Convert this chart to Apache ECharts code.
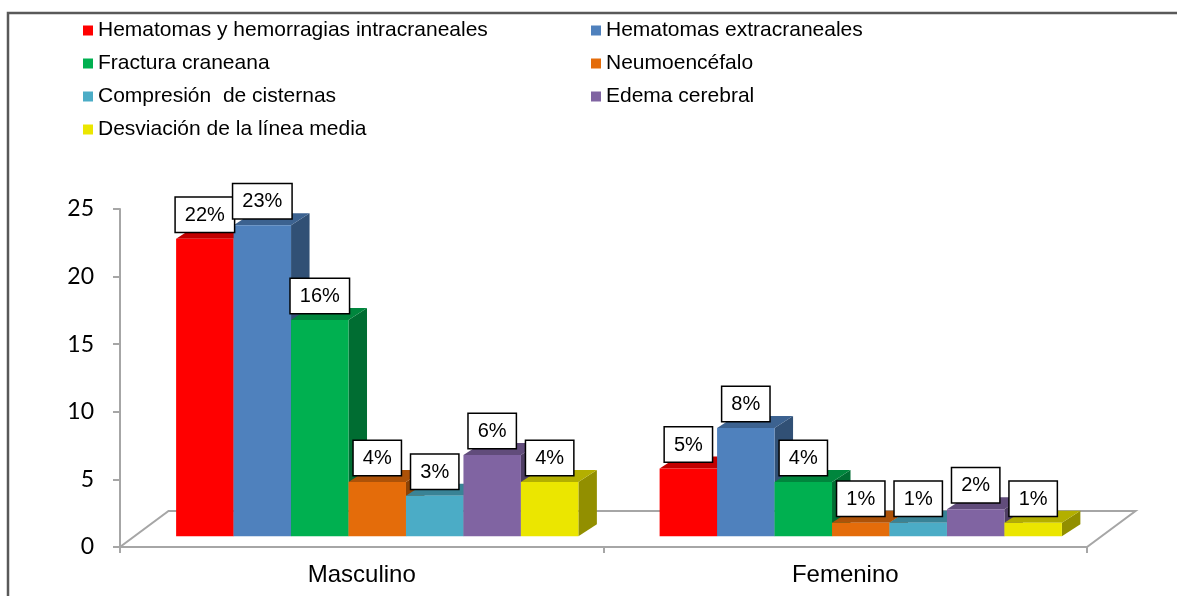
<!DOCTYPE html>
<html>
<head>
<meta charset="utf-8">
<script src="https://cdn.jsdelivr.net/npm/echarts@6/dist/echarts.min.js"></script>
<style>
  html, body { margin: 0; padding: 0; background: #fff; }
  #chart { width: 1177px; height: 596px; }
</style>
</head>
<body>
<div id="chart"></div>
<script>
// datos
const categories = ['Masculino', 'Femenino'];
const seriesNames = [
  'Hematomas y hemorragias intracraneales',
  'Hematomas extracraneales',
  'Fractura craneana',
  'Neumoencéfalo',
  'Compresión  de cisternas',
  'Edema cerebral',
  'Desviación de la línea media'
];
// un array por serie: [Masculino, Femenino]
const hematomasIntra = [22, 5];
const hematomasExtra = [23, 8];
const fractura = [16, 4];
const neumoencefalo = [4, 1];
const compresion = [3, 1];
const edema = [6, 2];
const desviacion = [4, 1];
const seriesValues = [hematomasIntra, hematomasExtra, fractura, neumoencefalo, compresion, edema, desviacion];
const yTicks = [0, 5, 10, 15, 20, 25];

const colors = ['#FF0000', '#4F81BD', '#00B050', '#E46C0A', '#4BACC6', '#8064A2', '#EBE600'];

// estilo "3D" tipo Excel
const FLOOR_DX = 48.5, FLOOR_DY = -36;   // profundidad del piso
const FRONT_DX = 15.5, FRONT_DY = -10.8; // cara frontal de las barras
const SIDE_DX = 18.5, SIDE_DY = -12;     // profundidad de cada barra
const GROUP_RATIO = 0.832;
const FONT = '"Liberation Sans", Arial, sans-serif';

function shade(hex, k) {
  const n = parseInt(hex.slice(1), 16);
  const r = Math.round(((n >> 16) & 255) * k);
  const g = Math.round(((n >> 8) & 255) * k);
  const b = Math.round((n & 255) * k);
  return 'rgb(' + r + ',' + g + ',' + b + ')';
}

function barRenderer(idx) {
  const color = colors[idx];
  return function (params, api) {
    const cat = api.value(0);
    const val = api.value(1);
    const base = api.coord([cat, 0]);
    const top = api.coord([cat, val]);
    const band = api.size([1, 0])[0];
    const groupW = band * GROUP_RATIO;
    const barW = groupW / seriesNames.length;
    const x0 = base[0] - groupW / 2 + idx * barW + FRONT_DX;
    const x1 = x0 + barW;
    const yb = base[1] + FRONT_DY;
    const yt = top[1] + FRONT_DY;
    return {
      type: 'group',
      children: [
        {
          type: 'polygon',
          shape: { points: [[x1, yt], [x1 + SIDE_DX, yt + SIDE_DY], [x1 + SIDE_DX, yb + SIDE_DY], [x1, yb]] },
          style: { fill: shade(color, 0.62) }
        },
        {
          type: 'polygon',
          shape: { points: [[x0, yt], [x1, yt], [x1 + SIDE_DX, yt + SIDE_DY], [x0 + SIDE_DX, yt + SIDE_DY]] },
          style: { fill: shade(color, 0.76) }
        },
        {
          type: 'rect',
          shape: { x: x0, y: yt, width: barW, height: yb - yt },
          style: { fill: color }
        },
        {
          type: 'text',
          z2: 100,
          style: {
            text: val + '%',
            x: (x0 + x1) / 2,
            y: yt - 7,
            align: 'center',
            verticalAlign: 'bottom',
            font: '20px ' + FONT,
            fill: '#000',
            backgroundColor: '#fff',
            borderColor: '#000',
            borderWidth: 1.5,
            padding: [6, 9, 5, 9],
            lineHeight: 23
          }
        }
      ]
    };
  };
}

const chart = echarts.init(document.getElementById('chart'));

const series = [{
  type: 'custom',
  name: 'piso',
  z: 1,
  silent: true,
  data: [[0, 0]],
  renderItem: function (params) {
    const cs = params.coordSys;
    const yb = cs.y + cs.height;
    return {
      type: 'polygon',
      shape: { points: [[cs.x, yb], [cs.x + cs.width, yb], [cs.x + cs.width + FLOOR_DX, yb + FLOOR_DY], [cs.x + FLOOR_DX, yb + FLOOR_DY]] },
      style: { fill: '#fff', stroke: '#A6A6A6', lineWidth: 2 }
    };
  }
}];

seriesNames.forEach(function (name, i) {
  series.push({
    type: 'custom',
    name: name,
    z: 2,
    itemStyle: { color: colors[i] },
    data: seriesValues[i].map(function (v, c) { return [c, v]; }),
    renderItem: barRenderer(i)
  });
});

chart.setOption({
  animation: false,
  graphic: [{
    type: 'rect',
    shape: { x: 8, y: 13, width: 1190, height: 620 },
    style: { fill: 'none', stroke: '#595959', lineWidth: 2.5 },
    silent: true
  }],
  legend: {
    data: seriesNames,
    left: 83,
    top: 19,
    padding: 0,
    width: 1040,
    icon: 'rect',
    itemWidth: 10,
    itemHeight: 10,
    itemGap: 10,
    textStyle: { fontFamily: FONT, fontSize: 21, color: '#000', width: 483, lineHeight: 23 }
  },
  grid: { left: 120, right: 90, top: 209, bottom: 49 },
  xAxis: {
    type: 'category',
    data: categories,
    axisLine: { lineStyle: { color: '#A6A6A6', width: 2 } },
    axisTick: { show: true, length: 6, lineStyle: { color: '#A6A6A6', width: 2 } },
    axisLabel: { fontFamily: FONT, fontSize: 24, color: '#000', margin: 16 }
  },
  yAxis: {
    type: 'value',
    min: yTicks[0],
    max: yTicks[yTicks.length - 1],
    interval: yTicks[1] - yTicks[0],
    axisLine: { show: true, lineStyle: { color: '#A6A6A6', width: 2 } },
    axisTick: { show: true, length: 7, lineStyle: { color: '#A6A6A6', width: 2 } },
    axisLabel: { fontFamily: 'Lato', fontSize: 23, color: '#000', margin: 26 },
    splitLine: { show: false }
  },
  series: series
});
</script>
</body>
</html>
